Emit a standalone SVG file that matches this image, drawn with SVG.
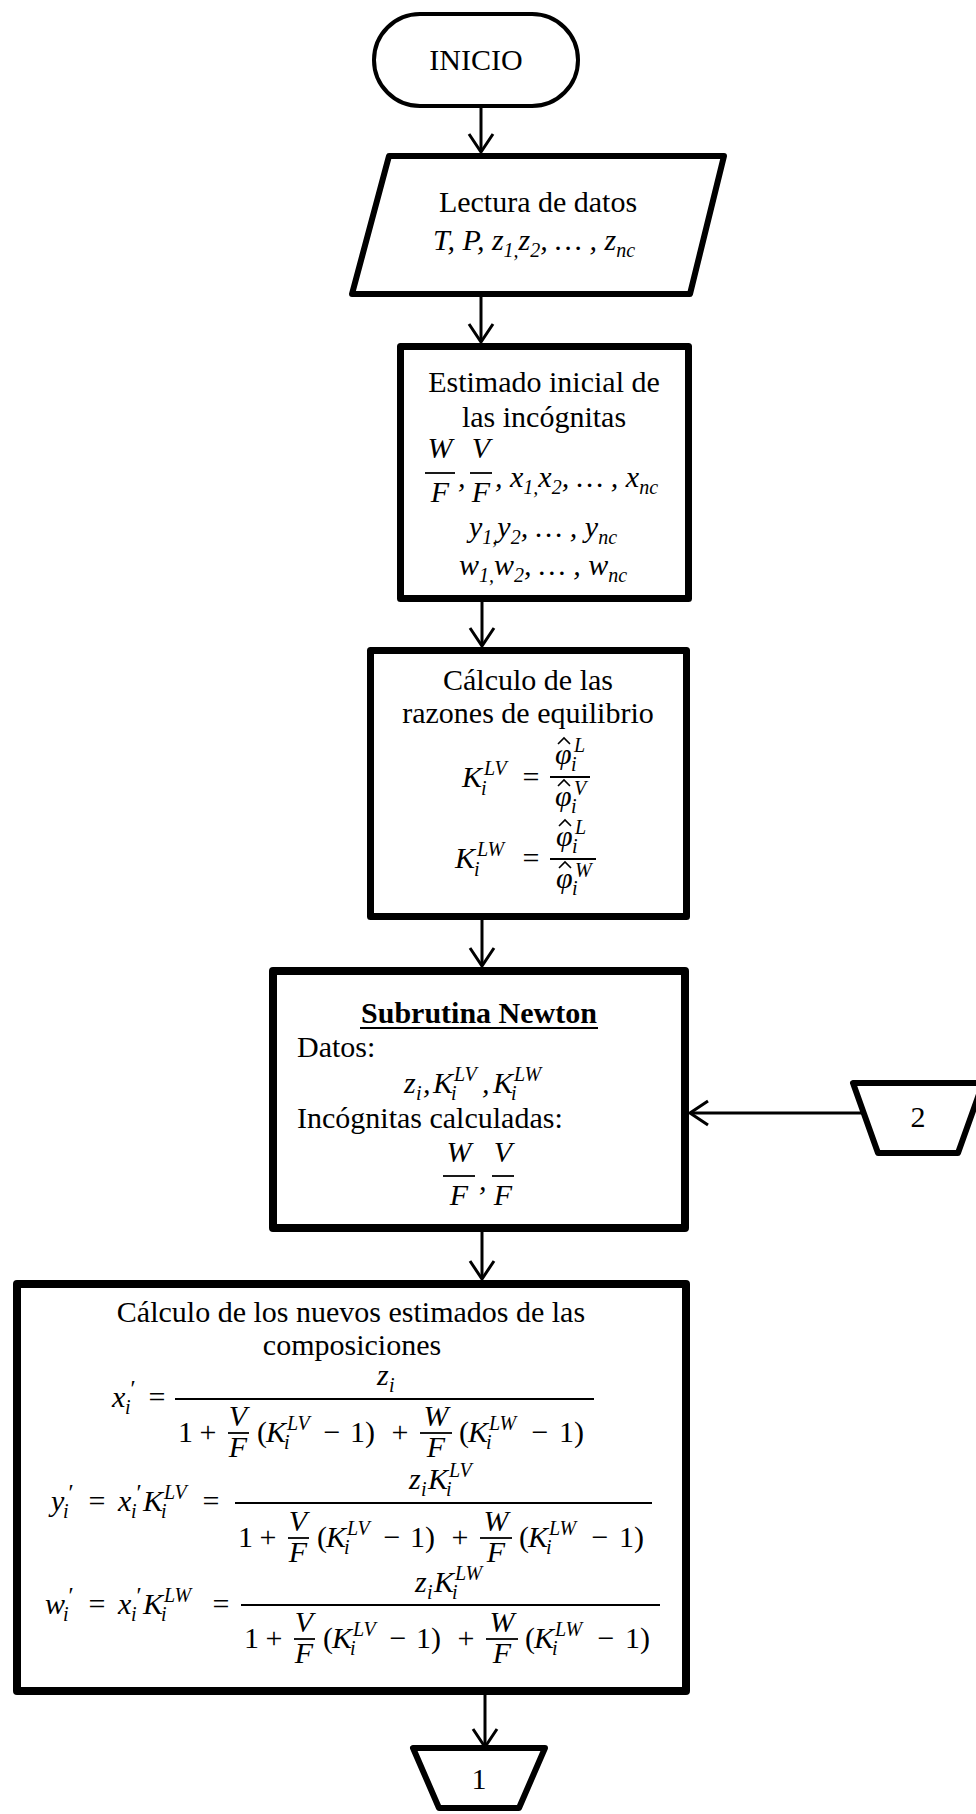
<svg xmlns="http://www.w3.org/2000/svg" width="976" height="1814" viewBox="0 0 976 1814">
<style>
.txt{font-family:"Liberation Serif","Times New Roman",serif;font-size:30px;fill:#000}
.mi{font-family:"Liberation Serif","Times New Roman",serif;font-style:italic;font-size:30px;fill:#000}
.sb{font-size:20px}
.pr{font-family:"Liberation Serif","Times New Roman",serif;font-size:24px;fill:#000}
.c{text-anchor:middle}
.b{font-weight:bold}
.shape{fill:#fff;stroke:#000;stroke-linejoin:round}
.fr{stroke:#000;stroke-width:1.8;fill:none}
.hat{stroke:#000;stroke-width:1.6;fill:none;stroke-linejoin:miter}
.conn{stroke:#000;stroke-width:3;fill:none;marker-end:url(#ah)}
</style>
<defs>
<marker id="ah" viewBox="-2 -2 22 28" refX="18" refY="12" markerWidth="22" markerHeight="28" markerUnits="userSpaceOnUse" orient="auto">
<path d="M0,0 L18,12 L0,24" fill="none" stroke="#000" stroke-width="3"/>
</marker>
</defs>
<rect x="0" y="0" width="976" height="1814" fill="#fff"/>

<g id="connectors">
<line class="conn" x1="481" y1="108" x2="481" y2="152"/>
<line class="conn" x1="481" y1="297" x2="481" y2="342"/>
<line class="conn" x1="482" y1="602" x2="482" y2="646"/>
<line class="conn" x1="482" y1="920" x2="482" y2="966"/>
<line class="conn" x1="482" y1="1232" x2="482" y2="1279"/>
<line class="conn" x1="485" y1="1695" x2="485" y2="1747"/>
<line class="conn" x1="864" y1="1113" x2="690" y2="1113"/>
</g>

<g id="inicio">
<rect class="shape" x="374" y="14" width="204" height="92" rx="46" stroke-width="4"/>
<text class="txt c" x="476" y="70">INICIO</text>
</g>

<g id="lectura">
<polygon class="shape" points="389,156 724,156 690,294 352,294" stroke-width="6"/>
<text class="txt c" x="538" y="212">Lectura de datos</text>
<text class="mi c" x="534" y="250">T, P, z<tspan class="sb" dy="7">1,</tspan><tspan dy="-7">z</tspan><tspan class="sb" dy="7">2</tspan><tspan dy="-7">, … , z</tspan><tspan class="sb" dy="7">nc</tspan></text>
</g>

<g id="estimado">
<rect class="shape" x="400.5" y="346.5" width="288" height="252" stroke-width="7"/>
<text class="txt c" x="544" y="392">Estimado inicial de</text>
<text class="txt c" x="544" y="427">las incógnitas</text>
<text class="mi c" x="440" y="458">W</text>
<line class="fr" x1="425" y1="473" x2="455" y2="473"/>
<text class="mi c" x="440" y="502">F</text>
<text class="mi" x="458" y="487">,</text>
<text class="mi c" x="481" y="458">V</text>
<line class="fr" x1="470" y1="473" x2="492" y2="473"/>
<text class="mi c" x="481" y="502">F</text>
<text class="mi" x="495" y="487">, x<tspan class="sb" dy="7">1,</tspan><tspan dy="-7">x</tspan><tspan class="sb" dy="7">2</tspan><tspan dy="-7">, … , x</tspan><tspan class="sb" dy="7">nc</tspan></text>
<text class="mi c" x="543" y="537">y<tspan class="sb" dy="7">1,</tspan><tspan dy="-7">y</tspan><tspan class="sb" dy="7">2</tspan><tspan dy="-7">, … , y</tspan><tspan class="sb" dy="7">nc</tspan></text>
<text class="mi c" x="543" y="575">w<tspan class="sb" dy="7">1,</tspan><tspan dy="-7">w</tspan><tspan class="sb" dy="7">2</tspan><tspan dy="-7">, … , w</tspan><tspan class="sb" dy="7">nc</tspan></text>
</g>

<g id="razones">
<rect class="shape" x="370.5" y="650.5" width="316" height="266" stroke-width="7"/>
<text class="txt c" x="528" y="690">Cálculo de las</text>
<text class="txt c" x="528" y="723">razones de equilibrio</text>
<text class="mi" x="462" y="787">K<tspan class="sb" x="481" y="795">i</tspan><tspan class="sb" x="484" y="775">LV</tspan></text>
<text class="txt c" x="531" y="787">=</text>
<line class="fr" x1="550" y1="777" x2="590" y2="777"/>
<text class="mi" x="555" y="764">φ<tspan class="sb" x="571" y="771">i</tspan><tspan class="sb" x="574" y="752">L</tspan></text>
<polyline class="hat" points="558,744 564,738 570,744"/>
<text class="mi" x="555" y="806">φ<tspan class="sb" x="571" y="813">i</tspan><tspan class="sb" x="574" y="795">V</tspan></text>
<polyline class="hat" points="558,786 564,780 570,786"/>
<text class="mi" x="455" y="868">K<tspan class="sb" x="474" y="876">i</tspan><tspan class="sb" x="477" y="856">LW</tspan></text>
<text class="txt c" x="531" y="868">=</text>
<line class="fr" x1="550" y1="859" x2="596" y2="859"/>
<text class="mi" x="556" y="846">φ<tspan class="sb" x="572" y="853">i</tspan><tspan class="sb" x="575" y="834">L</tspan></text>
<polyline class="hat" points="559,826 565,820 571,826"/>
<text class="mi" x="556" y="888">φ<tspan class="sb" x="572" y="895">i</tspan><tspan class="sb" x="575" y="877">W</tspan></text>
<polyline class="hat" points="559,868 565,862 571,868"/>
</g>

<g id="newton">
<rect class="shape" x="273" y="971" width="412" height="257" stroke-width="8"/>
<text class="txt b c" x="479" y="1023">Subrutina Newton</text>
<line x1="360" y1="1028" x2="598" y2="1028" stroke="#000" stroke-width="2"/>
<text class="txt" x="297" y="1057">Datos:</text>
<text class="mi" x="404" y="1093">z<tspan class="sb" x="416" y="1100">i</tspan><tspan x="423" y="1093">,</tspan><tspan x="433" y="1093">K</tspan><tspan class="sb" x="451" y="1100">i</tspan><tspan class="sb" x="454" y="1081">LV</tspan><tspan x="482" y="1093">,</tspan><tspan x="493" y="1093">K</tspan><tspan class="sb" x="511" y="1100">i</tspan><tspan class="sb" x="514" y="1081">LW</tspan></text>
<text class="txt" x="297" y="1128">Incógnitas calculadas:</text>
<text class="mi c" x="459" y="1162">W</text>
<line class="fr" x1="443" y1="1176" x2="475" y2="1176"/>
<text class="mi c" x="459" y="1205">F</text>
<text class="mi" x="479" y="1190">,</text>
<text class="mi c" x="503" y="1162">V</text>
<line class="fr" x1="492" y1="1176" x2="514" y2="1176"/>
<text class="mi c" x="503" y="1205">F</text>
</g>

<g id="nuevos">
<rect class="shape" x="17" y="1284" width="669" height="407" stroke-width="8"/>
<text class="txt c" x="351" y="1322">Cálculo de los nuevos estimados de las</text>
<text class="txt c" x="352" y="1355">composiciones</text>

<text class="mi" x="112" y="1407">x<tspan class="sb" x="125" y="1414">i</tspan><tspan class="pr" x="129" y="1396">′</tspan></text>
<text class="txt c" x="157" y="1407">=</text>
<line class="fr" x1="175" y1="1399" x2="594" y2="1399"/>
<text class="mi" x="377" y="1385">z<tspan class="sb" x="389" y="1392">i</tspan></text>
<g transform="translate(178,1442)">
<text class="txt" x="0" y="0">1</text>
<text class="txt c" x="30" y="0">+</text>
<text class="mi c" x="60" y="-16">V</text>
<line class="fr" x1="50" y1="-9" x2="71" y2="-9"/>
<text class="mi c" x="60" y="15">F</text>
<text class="txt" x="79" y="0">(<tspan class="mi" x="88" y="0">K</tspan><tspan class="mi sb" x="106" y="7">i</tspan><tspan class="mi sb" x="109" y="-12">LV</tspan></text>
<text class="txt c" x="154" y="0">−</text>
<text class="txt" x="172" y="0">1)</text>
<text class="txt c" x="222" y="0">+</text>
<text class="mi c" x="258" y="-16">W</text>
<line class="fr" x1="242" y1="-9" x2="274" y2="-9"/>
<text class="mi c" x="258" y="15">F</text>
<text class="txt" x="281" y="0">(<tspan class="mi" x="290" y="0">K</tspan><tspan class="mi sb" x="308" y="7">i</tspan><tspan class="mi sb" x="311" y="-12">LW</tspan></text>
<text class="txt c" x="362" y="0">−</text>
<text class="txt" x="381" y="0">1)</text>
</g>

<text class="mi" x="51" y="1511">y<tspan class="sb" x="63" y="1518">i</tspan><tspan class="pr" x="67" y="1500">′</tspan></text>
<text class="txt c" x="97" y="1511">=</text>
<text class="mi" x="118" y="1511">x<tspan class="sb" x="131" y="1518">i</tspan><tspan class="pr" x="135" y="1500">′</tspan><tspan x="143" y="1511">K</tspan><tspan class="sb" x="161" y="1518">i</tspan><tspan class="sb" x="164" y="1499">LV</tspan></text>
<text class="txt c" x="211" y="1511">=</text>
<line class="fr" x1="235" y1="1503" x2="652" y2="1503"/>
<text class="mi" x="409" y="1489">z<tspan class="sb" x="421" y="1496">i</tspan><tspan x="428" y="1489">K</tspan><tspan class="sb" x="446" y="1496">i</tspan><tspan class="sb" x="449" y="1477">LV</tspan></text>
<g transform="translate(238,1547)">
<text class="txt" x="0" y="0">1</text>
<text class="txt c" x="30" y="0">+</text>
<text class="mi c" x="60" y="-16">V</text>
<line class="fr" x1="50" y1="-9" x2="71" y2="-9"/>
<text class="mi c" x="60" y="15">F</text>
<text class="txt" x="79" y="0">(<tspan class="mi" x="88" y="0">K</tspan><tspan class="mi sb" x="106" y="7">i</tspan><tspan class="mi sb" x="109" y="-12">LV</tspan></text>
<text class="txt c" x="154" y="0">−</text>
<text class="txt" x="172" y="0">1)</text>
<text class="txt c" x="222" y="0">+</text>
<text class="mi c" x="258" y="-16">W</text>
<line class="fr" x1="242" y1="-9" x2="274" y2="-9"/>
<text class="mi c" x="258" y="15">F</text>
<text class="txt" x="281" y="0">(<tspan class="mi" x="290" y="0">K</tspan><tspan class="mi sb" x="308" y="7">i</tspan><tspan class="mi sb" x="311" y="-12">LW</tspan></text>
<text class="txt c" x="362" y="0">−</text>
<text class="txt" x="381" y="0">1)</text>
</g>

<text class="mi" x="45" y="1614">w<tspan class="sb" x="63" y="1621">i</tspan><tspan class="pr" x="67" y="1603">′</tspan></text>
<text class="txt c" x="97" y="1614">=</text>
<text class="mi" x="118" y="1614">x<tspan class="sb" x="131" y="1621">i</tspan><tspan class="pr" x="135" y="1603">′</tspan><tspan x="143" y="1614">K</tspan><tspan class="sb" x="161" y="1621">i</tspan><tspan class="sb" x="164" y="1602">LW</tspan></text>
<text class="txt c" x="221" y="1614">=</text>
<line class="fr" x1="241" y1="1605" x2="660" y2="1605"/>
<text class="mi" x="415" y="1592">z<tspan class="sb" x="427" y="1599">i</tspan><tspan x="434" y="1592">K</tspan><tspan class="sb" x="452" y="1599">i</tspan><tspan class="sb" x="455" y="1580">LW</tspan></text>
<g transform="translate(244,1648)">
<text class="txt" x="0" y="0">1</text>
<text class="txt c" x="30" y="0">+</text>
<text class="mi c" x="60" y="-16">V</text>
<line class="fr" x1="50" y1="-9" x2="71" y2="-9"/>
<text class="mi c" x="60" y="15">F</text>
<text class="txt" x="79" y="0">(<tspan class="mi" x="88" y="0">K</tspan><tspan class="mi sb" x="106" y="7">i</tspan><tspan class="mi sb" x="109" y="-12">LV</tspan></text>
<text class="txt c" x="154" y="0">−</text>
<text class="txt" x="172" y="0">1)</text>
<text class="txt c" x="222" y="0">+</text>
<text class="mi c" x="258" y="-16">W</text>
<line class="fr" x1="242" y1="-9" x2="274" y2="-9"/>
<text class="mi c" x="258" y="15">F</text>
<text class="txt" x="281" y="0">(<tspan class="mi" x="290" y="0">K</tspan><tspan class="mi sb" x="308" y="7">i</tspan><tspan class="mi sb" x="311" y="-12">LW</tspan></text>
<text class="txt c" x="362" y="0">−</text>
<text class="txt" x="381" y="0">1)</text>
</g>
</g>

<g id="conector-2">
<polygon class="shape" points="853,1083 983,1083 958,1153 878,1153" stroke-width="6"/>
<text class="txt c" x="918" y="1127" font-size="28">2</text>
</g>

<g id="conector-1">
<polygon class="shape" points="413,1748 545,1748 519,1808 439,1808" stroke-width="6"/>
<text class="txt c" x="479" y="1789" font-size="28">1</text>
</g>
</svg>
